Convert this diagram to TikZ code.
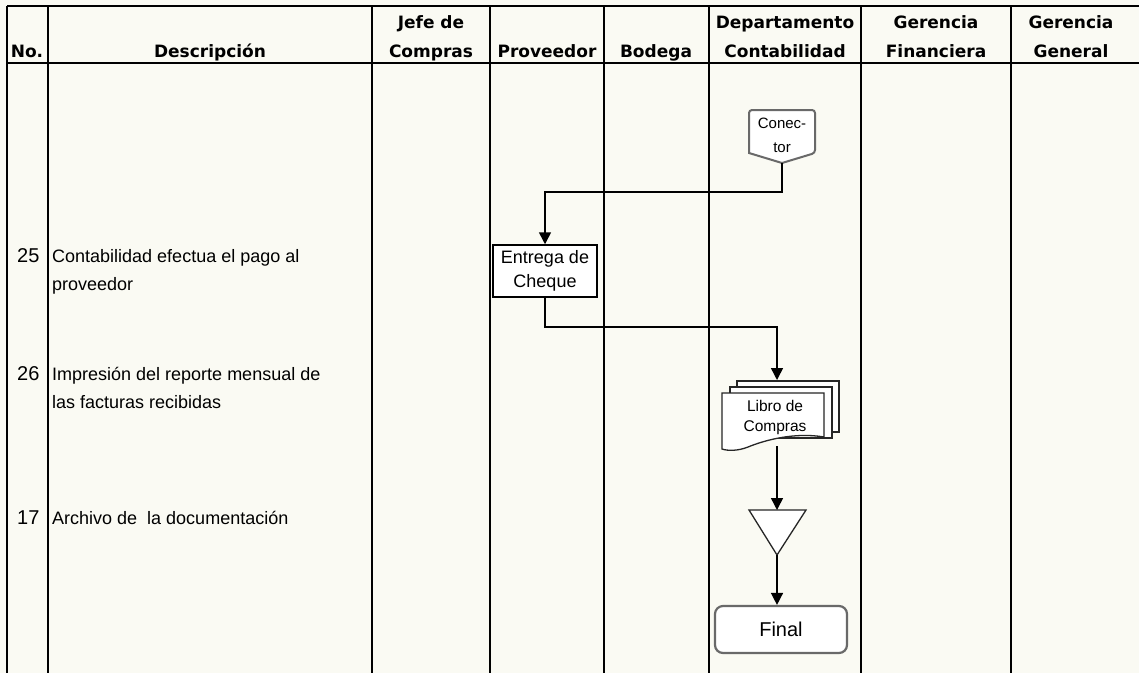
\documentclass[tikz,border=0pt]{standalone}
\usepackage{fontspec}
\setmainfont{Liberation Sans}
\newfontfamily\headfont{DejaVu Sans}
\usetikzlibrary{arrows.meta,calc}
\definecolor{paper}{RGB}{250,250,243}
\definecolor{edgegray}{RGB}{105,105,105}
\tikzset{
  grid/.style={line width=1.8pt, black},
  hdr/.style={anchor=base, inner sep=0pt, align=center,
    font=\headfont\bfseries\fontsize{17}{29}\selectfont},
  num/.style={anchor=base west, inner sep=0pt, font=\fontsize{20}{24}\selectfont},
  desc/.style={anchor=base west, inner sep=0pt, align=left,
    font=\fontsize{18}{28.5}\selectfont},
  flow/.style={line width=1.5pt, black},
  arr/.style={flow, -{Triangle[width=12pt,length=12pt]}},
  procbox/.style={draw=black, line width=1.5pt, fill=white, inner sep=0pt,
    minimum width=104pt, minimum height=52pt, align=center,
    font=\fontsize{18}{24}\selectfont},
  endbox/.style={draw=edgegray, line width=2.2pt, fill=white, rounded corners=8pt,
    inner sep=0pt, minimum width=132pt, minimum height=47pt,
    font=\fontsize{20}{24}\selectfont},
  doc/.style={draw=black!85, line width=1.3pt, fill=white},
}
\begin{document}
\begin{tikzpicture}[x=1pt,y=-1pt]
\useasboundingbox (0,0) rectangle (1139,673);
\fill[paper] (0,0) rectangle (1139,673);

% table frame
\draw[grid] (7,6) -- (1139,6);
\draw[grid] (7,63) -- (1139,63);
\foreach \x in {7,48,372,490,604,709,861,1011}
  \draw[grid] (\x,6) -- (\x,673);

% column headings (base = baseline of the last line)
\node[hdr] (hno)   at (27,57)   {No.};
\node[hdr] (hdesc) at (210,57)  {Descripción};
\node[hdr] (hjefe) at (431,57)  {Jefe de\\Compras};
\node[hdr] (hprov) at (547,57)  {Proveedor};
\node[hdr] (hbod)  at (656,57)  {Bodega};
\node[hdr] (hdep)  at (785,57)  {Departamento\\Contabilidad};
\node[hdr] (hgf)   at (936,57)  {Gerencia\\Financiera};
\node[hdr] (hgg)   at (1071,57) {Gerencia\\General};

% steps
\node[num]  (n25) at (17,262) {25};
\node[desc] (d25) at (52,290.5) {Contabilidad efectua el pago al\\proveedor};
\node[num]  (n26) at (17,380) {26};
\node[desc] (d26) at (52,408.5) {Impresión del reporte mensual de\\las facturas recibidas};
\node[num]  (n17) at (17,524) {17};
\node[desc] (d17) at (52,524) {Archivo de\ \ la documentación};

% off-page connector
\draw[draw=edgegray, line width=2pt, fill=white, rounded corners=3pt]
  (782,163) [sharp corners] -- (749,153) [rounded corners=3pt] -- (749,110)
  -- (815,110) -- (815,153) [sharp corners] -- cycle;
\node[inner sep=0pt, align=center, font=\fontsize{15}{24}\selectfont]
  (con) at (782,135) {Conec-\\tor};
\coordinate (contip) at (782,163);

% payment
\node[procbox] (ent) at (545,271) {Entrega de\\Cheque};

% purchase book (multiple documents)
\draw[doc] (737,381) rectangle (839,432);
\draw[doc] (730,387) rectangle (832,438);
\draw[doc] (722,393) -- (824,393) -- (824,437)
  .. controls (795,432) and (765,440) .. (748,447)
  .. controls (738,451) and (728,451) .. (722,449) -- cycle;
\node[inner sep=0pt, align=center, font=\fontsize{15.5}{20}\selectfont]
  (libro) at (775,417) {Libro de\\Compras};
\coordinate (libtop) at (777,380);
\coordinate (libbot) at (777,446);

% archive
\draw[draw=black!85, line width=1.3pt, fill=white]
  (749,510) -- (806,510) -- (777,555) -- cycle;
\coordinate (arctop) at (777,510);
\coordinate (arcbot) at (777,555);

% end terminal
\node[endbox] (fin) at (781,629.5) {Final};

% flow lines
\draw[arr] (contip) -- ++(0,29) -| (ent.north);
\draw[arr] (ent.south) -- ++(0,29) -| (libtop);
\draw[arr] (libbot) -- (arctop);
\draw[arr] (arcbot) -- (arcbot |- fin.north);
\end{tikzpicture}
\end{document}
